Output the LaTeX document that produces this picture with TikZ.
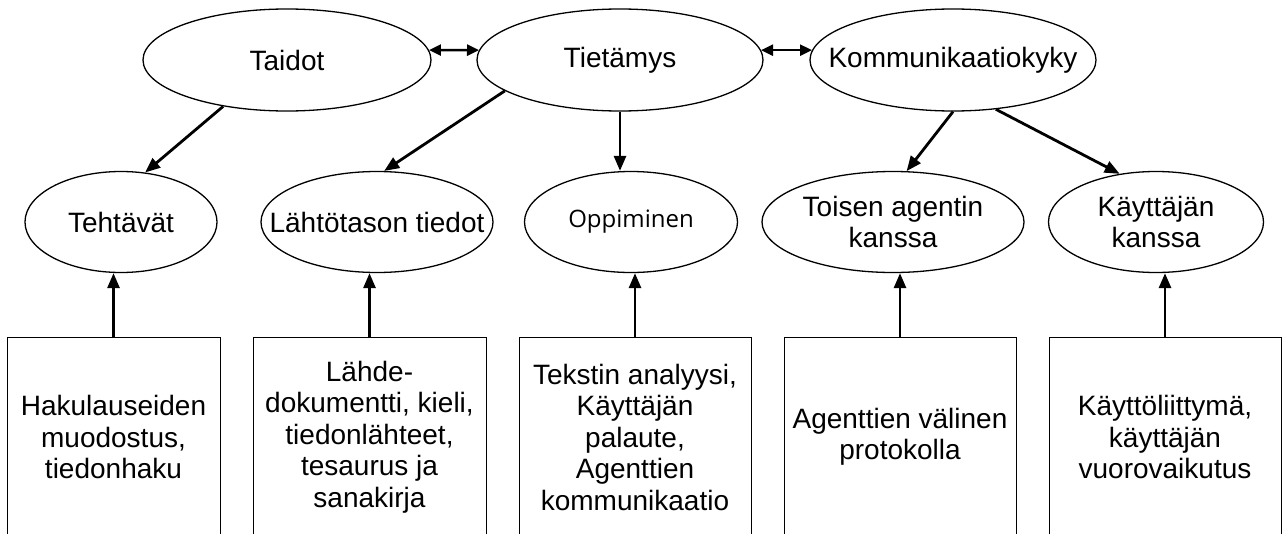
\documentclass[tikz,border=0pt]{standalone}
\usepackage{fontspec}
\setmainfont{Liberation Sans}
\newfontfamily\oppfont{Open Sans}
\usetikzlibrary{shapes.geometric,arrows.meta}

\begin{document}
\begin{tikzpicture}[x=1pt,y=-1pt,>={Triangle[length=15pt,width=12pt]},
  every node/.style={font=\fontsize{28}{31.5}\selectfont},
  oval/.style={ellipse,draw,line width=1.3pt,inner xsep=-100pt,inner ysep=-60pt,align=center},
  box/.style={rectangle,draw,line width=1pt,inner sep=0pt,minimum height=200pt,align=center},
  conn/.style={->,line width=2.8pt},
  both/.style={<->,line width=2.5pt,>={Triangle[length=12pt,width=11pt]}}]
  \useasboundingbox (0,0) rectangle (1282,533);
  \clip (0,0) rectangle (1282,533);
  % top row
  \node[oval,minimum width=288pt,minimum height=102pt] (taidot) at (287,60) {Taidot};
  \node[oval,minimum width=286pt,minimum height=102pt] (tietamys) at (620,60) {Tietämys};
  \node[oval,minimum width=286pt,minimum height=102pt] (kommun) at (953,60) {Kommunikaatiokyky};
  % second row
  \node[oval,minimum width=192pt,minimum height=101pt] (tehtavat) at (121,222) {Tehtävät};
  \node[oval,minimum width=232pt,minimum height=101pt] (lahto) at (377,222) {Lähtötason tiedot};
  \node[oval,minimum width=213pt,minimum height=101pt,font=\oppfont\fontsize{24}{28}\selectfont] (oppiminen) at (631,222) {Oppiminen};
  \node[oval,minimum width=262pt,minimum height=101pt] (toisen) at (893,222) {Toisen agentin\\kanssa};
  \node[oval,minimum width=215pt,minimum height=101pt] (kayttaja) at (1156,222) {Käyttäjän\\kanssa};
  % boxes
  \node[box,minimum width=213pt] (b1) at (113.5,437) {Hakulauseiden\\muodostus,\\tiedonhaku};
  \node[box,minimum width=233pt] (b2) at (369.5,437) {Lähde-\\dokumentti, kieli,\\tiedonlähteet,\\tesaurus ja\\sanakirja};
  \node[box,minimum width=232pt] (b3) at (635,437) {Tekstin analyysi,\\Käyttäjän\\palaute,\\Agenttien\\kommunikaatio};
  \node[box,minimum width=232pt] (b4) at (900,437) {Agenttien välinen\\protokolla};
  \node[box,minimum width=232pt] (b5) at (1165,437) {Käyttöliittymä,\\käyttäjän\\vuorovaikutus};
  % connectors
  \draw[both] (taidot.4) -- (tietamys.176);
  \draw[both] (tietamys.4) -- (kommun.176);
  \draw[conn] (taidot.216) -- (tehtavat.64);
  \draw[conn] (tietamys.195) -- (lahto.82);
  \draw[conn] (tietamys.south) -- (tietamys.south |- oppiminen.north);
  \draw[conn] (kommun.south) -- (toisen.75);
  \draw[conn] (kommun.311) -- (kayttaja.127);
  \foreach \b/\e in {b1/tehtavat,b2/lahto,b3/oppiminen,b4/toisen,b5/kayttaja}
    \draw[conn] (\b.north) -- (\b.north |- \e.south);
\end{tikzpicture}
\end{document}
